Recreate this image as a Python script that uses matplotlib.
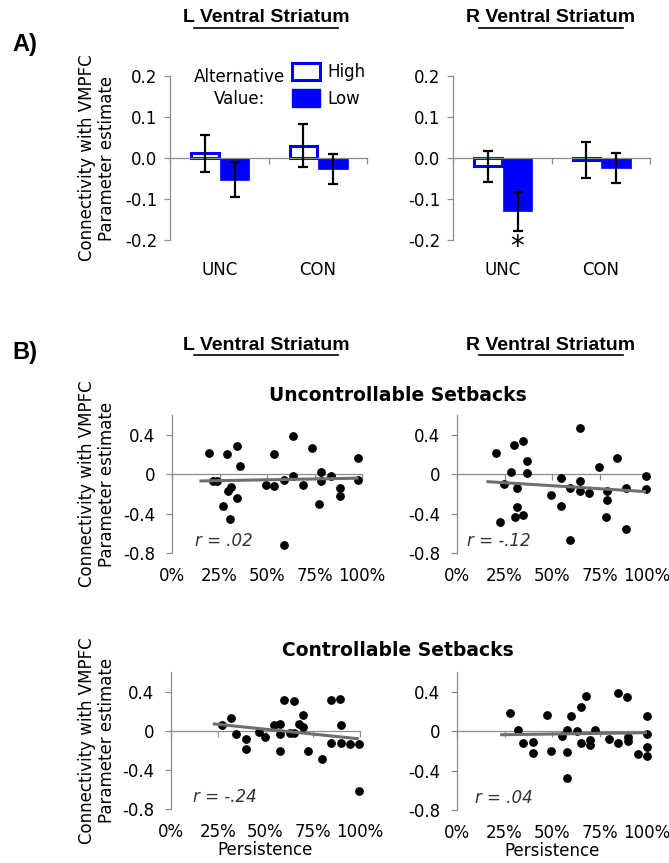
import numpy as np
import matplotlib
matplotlib.use("Agg")
import matplotlib.pyplot as plt
from matplotlib.patches import Patch

# ---- panel A: bar data (parameter estimate, SE) ----
groups = ["UNC", "CON"]
l_high = [0.012, 0.030]
l_high_se = [0.045, 0.052]
l_low = [-0.053, -0.027]
l_low_se = [0.043, 0.037]
r_high = [-0.020, -0.005]
r_high_se = [0.038, 0.045]
r_low = [-0.130, -0.024]
r_low_se = [0.048, 0.037]

# ---- panel B: persistence (%) vs connectivity ----
unc_l_x = [19.4, 21.7, 23.8, 29.2, 34.3, 35.8, 30.8, 29.5, 34.3, 27.1, 30.6, 49.3, 53.7, 53.7,
           58.7, 58.9, 63.5, 63.5, 68.7, 73.8, 77.3, 78.5, 78.5, 83.6, 88.3, 88.3, 98.1, 98.1]
unc_l_y = [0.21, -0.07, -0.07, 0.20, 0.29, 0.085, -0.13, -0.17, -0.24, -0.32, -0.45, -0.11, 0.20, -0.12,
           -0.055, -0.72, 0.39, -0.017, -0.106, 0.27, -0.30, 0.02, -0.065, -0.014, -0.14, -0.226, 0.16, -0.055]
unc_r_x = [20.5, 22.6, 24.9, 28.2, 30.2, 30.4, 31.8, 31.8, 34.9, 34.9, 36.8, 36.8, 49.6, 54.9, 54.9,
           59.6, 59.6, 64.7, 64.9, 64.9, 69.5, 74.6, 78.9, 78.9, 78.2, 84.4, 88.9, 88.9, 99.5, 99.5]
unc_r_y = [0.21, -0.49, -0.10, 0.017, 0.30, -0.43, -0.14, -0.33, 0.34, -0.41, 0.13, 0.01, -0.21, -0.04, -0.32,
           -0.14, -0.67, 0.47, -0.07, -0.17, -0.195, 0.07, -0.17, -0.26, -0.43, 0.16, -0.14, -0.56, -0.02, -0.15]
con_l_x = [27.1, 31.5, 34.5, 39.8, 39.8, 46.8, 49.6, 54.4, 57.9, 57.9, 57.9, 59.9, 63.0, 65.1,
           65.1, 67.9, 69.7, 69.7, 72.4, 80.1, 84.7, 84.7, 89.4, 89.8, 89.8, 94.9, 99.3, 99.3]
con_l_y = [0.058, 0.13, -0.034, -0.085, -0.186, -0.01, -0.064, 0.058, 0.068, -0.037, -0.21, 0.31, -0.02, -0.02,
           0.30, 0.068, 0.156, 0.034, -0.21, -0.285, 0.31, -0.125, 0.32, 0.058, -0.13, -0.14, -0.14, -0.62]
con_r_x = [27.7, 31.9, 34.9, 40.2, 40.2, 47.4, 49.6, 55.1, 57.9, 57.9, 57.9, 60.2, 63.2, 65.1, 65.1,
           68.1, 70.0, 70.0, 72.5, 80.2, 84.9, 84.9, 89.6, 90.0, 90.0, 95.3, 100, 100, 100, 100]
con_r_y = [0.18, 0.014, -0.125, -0.11, -0.217, 0.163, -0.197, -0.047, 0.014, -0.21, -0.475, 0.153, 0.003, 0.24, -0.125,
           0.36, -0.085, -0.136, 0.01, -0.081, 0.386, -0.125, 0.35, -0.064, -0.095, -0.227, 0.15, -0.027, -0.156, -0.25]
r_labels = ["r = .02", "r = -.12", "r = -.24", "r = .04"]

BLUE = "#0000ff"
AXC = "#8c8c8c"
W, H = 669, 863
plt.rcParams["font.family"] = ["DejaVu Sans"]
TITLE_FONT = ["Liberation Sans Narrow", "Liberation Sans", "DejaVu Sans"]

fig = plt.figure(figsize=(W / 100, H / 100), dpi=100)


def rect(x0, y0, x1, y1):
    return [x0 / W, 1 - y1 / H, (x1 - x0) / W, (y1 - y0) / H]


def style_axes(ax, ymin, ymax):
    for s in ("top", "right"):
        ax.spines[s].set_visible(False)
    for s in ("left", "bottom"):
        ax.spines[s].set_color(AXC)
        ax.spines[s].set_linewidth(0.9)
    ax.spines["bottom"].set_position(("data", 0))
    ax.set_ylim(ymin, ymax)
    ax.tick_params(colors=AXC, labelcolor="black", labelsize=12, direction="out", length=4, width=0.9)


def ylabel(r):
    fig.text(97 / W, r[1] + r[3] / 2, "Connectivity with VMPFC\nParameter estimate",
             rotation=90, ha="center", va="center", multialignment="center", fontsize=12)


def bar_panel(r, high, high_se, low, low_se, star=False, legend=False):
    ax = fig.add_axes(r)
    style_axes(ax, -0.2, 0.2)
    x = np.arange(len(groups)) + 0.5
    ax.bar(x + 0.155, low, 0.3, color=BLUE, edgecolor=BLUE, lw=0.5, zorder=2)
    ax.bar(x - 0.145, high, 0.28, facecolor="white", edgecolor=BLUE, lw=2.2, zorder=2)
    for xs, m, se in ((x - 0.145, high, high_se), (x + 0.155, low, low_se)):
        ax.errorbar(xs, m, yerr=se, fmt="none", ecolor="black", elinewidth=1.6,
                    capsize=3.5, capthick=1.6, zorder=3)
    ax.set_xlim(0, len(groups))
    ax.set_yticks([-0.2, -0.1, 0.0, 0.1, 0.2])
    ax.set_yticklabels([f"{v:.1f}" for v in [-0.2, -0.1, 0.0, 0.1, 0.2]])
    ax.tick_params(axis="y", pad=5)
    ax.set_xticks(np.arange(len(groups) + 1))
    ax.set_xticklabels([])
    ax.set_xticks(x, minor=True)
    ax.set_xticklabels(groups, minor=True)
    hpx = r[3] * H
    ax.tick_params(axis="x", which="minor", length=0, pad=(hpx / 2 + 21) * 0.72, labelsize=12)
    if star:
        i = 0
        ax.text(x[i] + 0.155, low[i] - low_se[i] - 0.004, "*", ha="center", va="top",
                fontsize=20, clip_on=False)
    if legend:
        fig.text(240 / W, 1 - 88 / H, "Alternative\nValue:", ha="center", va="center",
                 multialignment="center", fontsize=12, linespacing=1.35)
        hs = [Patch(facecolor="white", edgecolor=BLUE, lw=2.2, label="High"),
              Patch(facecolor=BLUE, edgecolor=BLUE, label="Low")]
        fig.legend(handles=hs, loc="upper left", bbox_to_anchor=(292 / W, 1 - 63 / H),
                   frameon=False, borderpad=0, borderaxespad=0, handlelength=1.65,
                   handleheight=1.2, handletextpad=0.5, labelspacing=0.5, fontsize=12)
    return ax


def scatter_panel(r, xs, ys, rlab, rx, xlabel=False):
    ax = fig.add_axes(r)
    style_axes(ax, -0.8, 0.6)
    xs = np.asarray(xs, float)
    ys = np.asarray(ys, float)
    ax.scatter(xs, ys, s=28, color="black", zorder=3, clip_on=False)
    k, b = np.polyfit(xs, ys, 1)
    xl = np.array([xs.min() - 5, xs.max()])
    ax.plot(xl, k * xl + b, color="#6e6e6e", lw=2.2, zorder=4, solid_capstyle="butt")
    ax.set_xlim(0, 100)
    ax.set_yticks([-0.8, -0.4, 0, 0.4])
    ax.set_yticklabels([f"{v:g}" for v in [-0.8, -0.4, 0, 0.4]])
    ax.tick_params(axis="y", pad=8)
    ax.set_xticks([0, 25, 50, 75, 100])
    ax.set_xticklabels([f"{v}%" for v in [0, 25, 50, 75, 100]])
    hpx = r[3] * H
    ax.tick_params(axis="x", pad=(hpx * 0.8 / 1.4 + 13) * 0.72 - 3)
    ax.text(rx, -0.68, rlab, style="italic", fontsize=12, color="#333333", ha="left", va="center")
    if xlabel:
        ax.set_xlabel("Persistence", fontsize=12, labelpad=0)
    return ax


ra = rect(170, 76, 367, 240)
rb = rect(453, 76, 650, 240)
bar_panel(ra, l_high, l_high_se, l_low, l_low_se, legend=True)
bar_panel(rb, r_high, r_high_se, r_low, r_low_se, star=True)
ylabel(ra)

s1 = rect(172, 415, 362, 553)
s2 = rect(457, 415, 647, 553)
s3 = rect(171, 672, 360, 809)
s4 = rect(457, 672, 647, 810)
scatter_panel(s1, unc_l_x, unc_l_y, r_labels[0], 12)
scatter_panel(s2, unc_r_x, unc_r_y, r_labels[1], 5.5)
scatter_panel(s3, con_l_x, con_l_y, r_labels[2], 11.5, xlabel=True)
scatter_panel(s4, con_r_x, con_r_y, r_labels[3], 9.5, xlabel=True)
ylabel(s1)
ylabel(s3)

# titles
tkw = dict(ha="center", va="center", fontsize=14, fontweight="bold", family=TITLE_FONT)
for y in (18, 345):
    fig.text(266 / W, 1 - y / H, "L Ventral Striatum", **tkw)
    fig.text(551 / W, 1 - y / H, "R Ventral Striatum", **tkw)
    for xc in (266, 551):
        fig.add_artist(plt.Line2D([(xc - 72) / W, (xc + 72) / W], [1 - (y + 10) / H] * 2,
                                  color="black", lw=1.2))
fig.text(12 / W, 1 - 45 / H, "A)", ha="left", va="center", fontsize=17, fontweight="bold", family=TITLE_FONT)
fig.text(12 / W, 1 - 352 / H, "B)", ha="left", va="center", fontsize=17, fontweight="bold", family=TITLE_FONT)
fig.text(398 / W, 1 - 395 / H, "Uncontrollable Setbacks", ha="center", va="center",
         fontsize=13.5, fontweight="bold")
fig.text(398 / W, 1 - 650 / H, "Controllable Setbacks", ha="center", va="center",
         fontsize=13.5, fontweight="bold")

fig.savefig("out.png", dpi=100)
